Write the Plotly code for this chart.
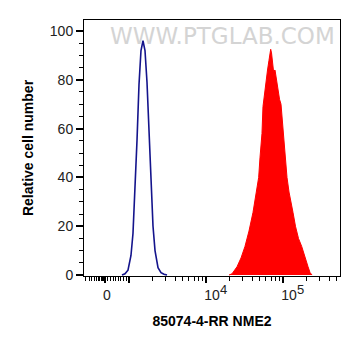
import plotly.graph_objects as go

# Display units: log10 of fluorescence (biexponential-like axis, "0" sits near 2.69)
blue_x = [2.909, 2.948, 2.987, 3.026, 3.052, 3.078, 3.104, 3.130, 3.156, 3.182,
          3.208, 3.234, 3.260, 3.286, 3.312, 3.338, 3.377, 3.416, 3.455, 3.494]
blue_y = [0, 0.5, 2, 8, 17, 35, 55, 78, 92, 96,
          92, 79, 58, 38, 20, 10, 3, 1, 0.3, 0]

red_x = [4.299, 4.338, 4.403, 4.455, 4.506, 4.558, 4.610, 4.649, 4.684, 4.701,
         4.727, 4.740, 4.760, 4.779, 4.799, 4.818, 4.831, 4.840, 4.851, 4.864,
         4.877, 4.896, 4.916, 4.935, 4.955, 4.974, 4.994, 5.013, 5.032, 5.052,
         5.078, 5.104, 5.130, 5.162, 5.201, 5.243, 5.286, 5.325, 5.351, 5.377]
red_y = [0, 0.5, 3.4, 7, 11.7, 18, 25.6, 33, 40, 48,
         58, 69, 75, 80, 84, 88, 91, 92.5, 91, 86,
         83.5, 84, 80, 75, 72, 70, 62, 52, 46, 40,
         34, 29, 25.6, 20, 15, 11.7, 7, 3.4, 1, 0]

x_major_vals = [2.688, 3.0, 4.0, 5.0]
x_major_text = ["&nbsp;0", "",
                "&nbsp;&nbsp;&nbsp;&nbsp;&nbsp;10<sup><span style='font-size:13px'>4</span></sup>",
                "&nbsp;&nbsp;&nbsp;&nbsp;&nbsp;10<sup><span style='font-size:13px'>5</span></sup>"]
x_minor_vals = [2.429, 2.481, 2.519, 2.554, 2.579, 2.605, 2.623, 2.642, 2.662, 2.675,
                2.727, 2.766, 2.801, 2.831, 2.866, 2.896, 2.935, 2.970,
                3.301, 3.477, 3.602, 3.699, 3.778, 3.845, 3.903, 3.954,
                4.301, 4.477, 4.602, 4.699, 4.778, 4.845, 4.903, 4.954,
                5.301, 5.477, 5.602, 5.699]
y_major_vals = [0, 20, 40, 60, 80, 100]
y_minor_vals = [5, 10, 15, 25, 30, 35, 45, 50, 55, 65, 70, 75, 85, 90, 95]

fig = go.Figure()
fig.add_trace(go.Scatter(x=red_x, y=red_y, mode="lines", fill="tozeroy",
                         fillcolor="#ff0000", line=dict(color="#ff0000", width=1),
                         showlegend=False))
fig.add_trace(go.Scatter(x=blue_x, y=blue_y, mode="lines",
                         line=dict(color="#14148c", width=1.6), showlegend=False))

font = "Liberation Sans, Arial, sans-serif"
fig.update_layout(
    width=353, height=348,
    margin=dict(l=76, r=21, t=12, b=80, autoexpand=False),
    paper_bgcolor="white", plot_bgcolor="white",
    font=dict(family=font, color="#222222", size=13),
    xaxis=dict(range=[2.416, 5.740], showgrid=False, zeroline=False,
               showline=True, linecolor="black", linewidth=1, mirror=True,
               ticks="outside", ticklen=6, tickwidth=2, tickcolor="black",
               tickmode="array", tickvals=x_major_vals, ticktext=x_major_text,
               tickfont=dict(size=14, color="#222222"),
               minor=dict(tickmode="array", tickvals=x_minor_vals, ticks="outside",
                          ticklen=4, tickwidth=1, tickcolor="black", showgrid=False),
               title=dict(text="<b>85074-4-RR NME2</b>", font=dict(size=14, color="black"),
                          standoff=14)),
    yaxis=dict(range=[-0.4, 104.5], showgrid=False, zeroline=False,
               showline=True, linecolor="black", linewidth=1, mirror=True,
               ticks="outside", ticklen=7, tickwidth=2, tickcolor="black",
               tickmode="array", tickvals=y_major_vals,
               tickfont=dict(size=14, color="#222222"),
               minor=dict(tickmode="array", tickvals=y_minor_vals, ticks="outside",
                          ticklen=4, tickwidth=1, tickcolor="black", showgrid=False),
               title=dict(text="<b>Relative cell number</b>", font=dict(size=14, color="black"),
                          standoff=12)),
    annotations=[dict(text="WWW.PTGLAB.COM", xref="paper", yref="paper",
                      x=0.99, y=0.995, xanchor="right", yanchor="top", showarrow=False,
                      font=dict(family="DejaVu Sans, sans-serif", size=23, color="#d4d4d4"))],
)

fig.write_html("out.html")
